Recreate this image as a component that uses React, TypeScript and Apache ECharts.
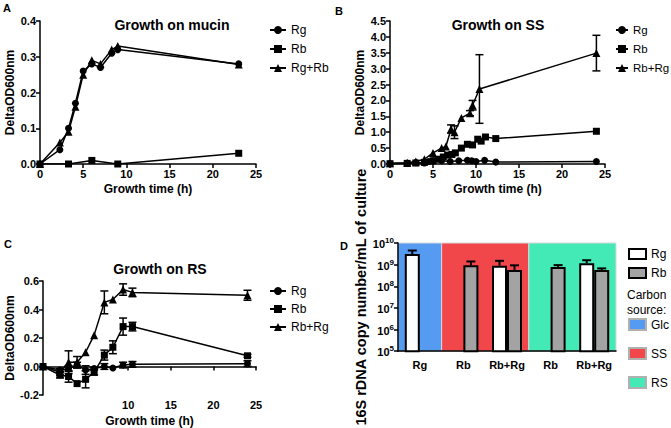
import React, { useEffect, useRef } from 'react';
import * as echarts from 'echarts';

const FF = '"Liberation Sans", Arial, sans-serif';

// ---- Panel A: growth on mucin ----
const aTime = [0, 2.3, 3.3, 4.1, 5, 6, 7, 8.3, 9, 23];
const aRg = [0, 0.04, 0.1, 0.17, 0.26, 0.28, 0.27, 0.31, 0.32, 0.28];
const aRgRb = [0, 0.06, 0.09, 0.16, 0.25, 0.29, 0.28, 0.32, 0.33, 0.278];
const aRbTime = [0, 3.3, 6, 9, 23];
const aRb = [0, 0, 0.01, 0, 0.03];

// ---- Panel B: growth on SS ----
const bRgTime = [0, 2, 3, 4, 4.5, 5, 6, 7, 8, 9, 9.5, 10, 11, 12.3, 24];
const bRg = [0.01, 0.02, 0.05, 0.03, 0.08, 0.1, 0.1, 0.08, 0.1, 0.12, 0.1, 0.08, 0.12, 0.06, 0.08];
const bRbTime = [0, 2, 3, 4, 5, 5.6, 6.2, 6.7, 7.2, 7.6, 8.3, 9, 9.6, 10.2, 10.6, 11.1, 12.3, 24];
const bRb = [0.01, 0.02, 0.03, 0.05, 0.1, 0.15, 0.22, 0.28, 0.3, 0.35, 0.5, 0.62, 0.6, 0.78, 0.72, 0.85, 0.8, 1.03];
const bMixTime = [0, 2, 3, 4, 5, 6, 6.5, 7.1, 7.5, 8.3, 9.3, 9.6, 10.4, 24];
const bMix = [0.02, 0.04, 0.08, 0.15, 0.35, 0.5, 0.55, 1.1, 1.0, 1.45, 1.6, 1.85, 2.36, 3.49];
const bMixErr = [0, 0, 0, 0, 0, 0, 0, 0.13, 0.2, 0, 0.08, 0.15, 1.08, 0.56];

// ---- Panel C: growth on RS ----
const cTime = [0, 2, 3, 4, 5, 6, 7.2, 8.2, 9.4, 10.5, 24];
const cRg = [0, -0.025, -0.015, 0.01, -0.025, -0.015, 0, -0.01, 0.01, 0.015, 0.02];
const cRgErr = [0, 0.01, 0.02, 0.02, 0.03, 0.01, 0.02, 0, 0.02, 0.02, 0.02];
const cRb = [0, -0.06, -0.07, -0.12, -0.09, -0.04, 0.08, 0.135, 0.28, 0.28, 0.075];
const cRbErr = [0, 0.02, 0.04, 0, 0.06, 0.02, 0.035, 0.045, 0.06, 0.03, 0.01];
const cMix = [0, -0.04, 0.03, 0.03, 0.1, 0.22, 0.45, 0.47, 0.54, 0.52, 0.5];
const cMixErr = [0, 0.02, 0.08, 0.04, 0, 0, 0.08, 0, 0.04, 0.03, 0.035];

// ---- Panel D: 16S rDNA copies ----
const dCategories = ['Rg', 'Rb', 'Rb+Rg', 'Rb', 'Rb+Rg'];
const dRg: (number | null)[] = [3.1e9, null, 9e8, null, 1.15e9];
const dRgHigh: (number | null)[] = [4.5e9, null, 1.5e9, null, 1.6e9];
const dRb: (number | null)[] = [null, 9.3e8, 5.6e8, 7.8e8, 5.6e8];
const dRbHigh: (number | null)[] = [null, 1.4e9, 9.3e8, 9.5e8, 6.7e8];
const dBandStart = [0, 1, 3];
const dBandEnd = [0, 2, 4];
const dBandNames = ['Glc', 'SS', 'RS'];
const dBandColors = ['#559bf2', '#f2474a', '#44eab6'];

const pairs = (xs: number[], ys: number[]) => xs.map((x, i) => [x, ys[i]]);
const errData = (xs: number[], ys: number[], es: number[]) =>
  xs.map((x, i) => [x, ys[i] - es[i], ys[i] + es[i]]).filter((_, i) => es[i] > 0);

const BLACK = '#000';
const axisLine = { show: true, onZero: true, lineStyle: { color: BLACK, width: 1.5 } };
const axisTick = { show: true, length: 4, lineStyle: { color: BLACK, width: 1.5 } };
const axisLabel = { color: BLACK, fontSize: 11, fontWeight: 'bold', fontFamily: FF, margin: 4 };
const nameStyle = { color: BLACK, fontSize: 12, fontWeight: 'bold', fontFamily: FF };

const errRender = (params: any, api: any) => {
  const x = api.value(0);
  const p1 = api.coord([x, api.value(1)]);
  const p2 = api.coord([x, api.value(2)]);
  const st = { stroke: BLACK, lineWidth: 1.5 };
  const c = 4;
  return {
    type: 'group',
    children: [
      { type: 'line', shape: { x1: p1[0], y1: p1[1], x2: p2[0], y2: p2[1] }, style: st },
      { type: 'line', shape: { x1: p1[0] - c, y1: p1[1], x2: p1[0] + c, y2: p1[1] }, style: st },
      { type: 'line', shape: { x1: p2[0] - c, y1: p2[1], x2: p2[0] + c, y2: p2[1] }, style: st },
    ],
  };
};

const lineSeries = (name: string, idx: number, data: number[][], symbol: string) => ({
  name,
  type: 'line',
  xAxisIndex: idx,
  yAxisIndex: idx,
  data,
  symbol,
  symbolSize: symbol === 'triangle' ? 8 : 7,
  itemStyle: { color: BLACK },
  lineStyle: { color: BLACK, width: 1.5 },
  z: 3,
});

const errSeries = (idx: number, data: number[][]) => ({
  type: 'custom',
  xAxisIndex: idx,
  yAxisIndex: idx,
  data,
  encode: { x: 0, y: [1, 2] },
  renderItem: errRender,
  silent: true,
  z: 4,
});

const timeAxis = (idx: number, showLabel?: (v: number) => string) => ({
  type: 'value',
  gridIndex: idx,
  min: 0,
  max: 25,
  interval: 5,
  name: 'Growth time (h)',
  nameLocation: 'middle',
  nameGap: 19,
  nameTextStyle: nameStyle,
  axisLine,
  axisTick,
  axisLabel: { ...axisLabel, formatter: showLabel || ((v: number) => String(v)) },
  splitLine: { show: false },
});

const odAxis = (idx: number, min: number, max: number, interval: number) => ({
  type: 'value',
  gridIndex: idx,
  min,
  max,
  interval,
  name: 'DeltaOD600nm',
  nameLocation: 'middle',
  nameGap: 24,
  nameTextStyle: nameStyle,
  axisLine,
  axisTick,
  axisLabel: { ...axisLabel, formatter: (v: number) => v.toFixed(1) },
  splitLine: { show: false },
});

const legendBase = {
  orient: 'vertical',
  padding: 0,
  itemWidth: 16,
  itemHeight: 10,
  itemGap: 7,
  formatter: (n: string) => n.split(':')[1],
  textStyle: { color: BLACK, fontSize: 12, fontFamily: FF },
  selectedMode: false,
};

const bandRender = (params: any, api: any) => {
  const s = api.value(0);
  const e = api.value(1);
  const ci = api.value(3);
  const half = (api.coord([1, 1e7])[0] - api.coord([0, 1e7])[0]) / 2;
  const top = api.coord([0, 1e10])[1];
  const bottom = api.coord([0, 1e5])[1];
  const x0 = api.coord([s, 1e7])[0] - half;
  const x1 = api.coord([e, 1e7])[0] + half;
  return {
    type: 'rect',
    shape: { x: x0, y: top, width: x1 - x0, height: bottom - top },
    style: { fill: dBandColors[ci], stroke: '#d8d8d8', lineWidth: 1 },
  };
};

const barErrRender = (params: any, api: any) => {
  const cat = api.value(0);
  const side = api.value(3);
  const p1 = api.coord([cat, api.value(1)]);
  const p2 = api.coord([cat, api.value(2)]);
  const x = p1[0] + side * 7.5;
  const st = { stroke: BLACK, lineWidth: 2 };
  return {
    type: 'group',
    children: [
      { type: 'line', shape: { x1: x, y1: p1[1], x2: x, y2: p2[1] }, style: st },
      { type: 'line', shape: { x1: x - 4.5, y1: p2[1], x2: x + 4.5, y2: p2[1] }, style: st },
    ],
  };
};

export default function App() {
  const ref = useRef<HTMLDivElement>(null);
  useEffect(() => {
    document.body.style.margin = '0';
    if (!ref.current) return;
    const chart = echarts.init(ref.current, undefined, { renderer: 'svg' });

    const dErr: any[] = [];
    dCategories.forEach((_, i) => {
      if (dRg[i] != null) dErr.push([i, dRg[i], dRgHigh[i], -1]);
      if (dRb[i] != null) dErr.push([i, dRb[i], dRbHigh[i], 1]);
    });

    const titleStyle = { fontSize: 14, fontWeight: 'bold', color: BLACK, fontFamily: FF };
    const letter = (t: string, left: number, top: number) => ({
      type: 'text', left, top, style: { text: t, fontSize: 11, fontWeight: 'bold', fill: BLACK, fontFamily: FF },
    });

    const option: any = {
      animation: false,
      backgroundColor: '#fff',
      textStyle: { fontFamily: FF },
      title: [
        { text: 'Growth on mucin', left: 167, top: 13, textAlign: 'center', textStyle: titleStyle },
        { text: 'Growth on SS', left: 493, top: 13, textAlign: 'center', textStyle: titleStyle },
        { text: 'Growth on RS', left: 155, top: 257, textAlign: 'center', textStyle: titleStyle },
      ],
      graphic: [
        letter('A', 3, 2),
        letter('B', 335, 5),
        letter('C', 4, 238),
        letter('D', 340, 240),
        { type: 'text', left: 627, top: 287, style: { text: 'Carbon\nsource:', fontSize: 12, lineHeight: 15, fill: BLACK, fontFamily: FF } },
      ],
      legend: [
        { ...legendBase, left: 269, top: 24, data: ['A:Rg', 'A:Rb', 'A:Rg+Rb'] },
        {
          ...legendBase, left: 615, top: 24, itemWidth: 12,
          textStyle: { color: BLACK, fontSize: 11.5, fontFamily: FF },
          data: ['B:Rg', 'B:Rb', 'B:Rb+Rg'],
        },
        { ...legendBase, left: 269, top: 285, itemGap: 6, data: ['C:Rg', 'C:Rb', 'C:Rb+Rg'] },
        {
          ...legendBase, left: 628, top: 248, itemWidth: 17, itemHeight: 10, itemGap: 7,
          data: [{ name: 'D:Rg', icon: 'rect' }, { name: 'D:Rb', icon: 'rect' }],
        },
        {
          ...legendBase, left: 628, top: 318, itemWidth: 17, itemHeight: 11, itemGap: 16,
          data: dBandNames.map((n) => ({ name: 'D:' + n, icon: 'rect' })),
        },
      ],
      grid: [
        { left: 40, top: 21, width: 216, height: 143 },
        { left: 390, top: 21, width: 215, height: 143 },
        { left: 43, top: 281, width: 213, height: 141 },
        { left: 398, top: 243, width: 218, height: 144 },
      ],
      xAxis: [
        timeAxis(0),
        timeAxis(1),
        { ...timeAxis(2, (v: number) => (v >= 10 ? String(v) : '')), nameGap: 20 },
        {
          type: 'category',
          gridIndex: 3,
          data: dCategories,
          axisLine: { show: true, lineStyle: { color: BLACK, width: 1.5 } },
          axisTick: { show: false },
          axisLabel: { ...axisLabel, fontSize: 11, margin: 8, interval: 0 },
        },
      ],
      yAxis: [
        odAxis(0, 0, 0.4, 0.1),
        odAxis(1, 0, 4.5, 0.5),
        odAxis(2, -0.2, 0.6, 0.2),
        {
          type: 'log',
          gridIndex: 3,
          logBase: 10,
          min: 1e5,
          max: 1e10,
          interval: 1,
          name: '16S rDNA copy number/mL of culture',
          nameLocation: 'middle',
          nameGap: 22,
          nameTextStyle: { ...nameStyle, fontSize: 14.5 },
          axisLine: { show: true, lineStyle: { color: BLACK, width: 1.5 } },
          axisTick,
          splitLine: { show: false },
          axisLabel: {
            ...axisLabel,
            formatter: (v: number) => `{b|10}{s|${Math.round(Math.log10(v))}}`,
            rich: {
              b: { fontSize: 11, fontWeight: 'bold', color: BLACK, fontFamily: FF, verticalAlign: 'bottom' },
              s: { fontSize: 8, fontWeight: 'bold', color: BLACK, fontFamily: FF, verticalAlign: 'bottom', padding: [0, 0, 5, 0] },
            },
          },
        },
      ],
      series: [
        // A
        lineSeries('A:Rg', 0, pairs(aTime, aRg), 'circle'),
        lineSeries('A:Rb', 0, pairs(aRbTime, aRb), 'rect'),
        lineSeries('A:Rg+Rb', 0, pairs(aTime, aRgRb), 'triangle'),
        // B
        lineSeries('B:Rg', 1, pairs(bRgTime, bRg), 'circle'),
        lineSeries('B:Rb', 1, pairs(bRbTime, bRb), 'rect'),
        lineSeries('B:Rb+Rg', 1, pairs(bMixTime, bMix), 'triangle'),
        errSeries(1, errData(bMixTime, bMix, bMixErr)),
        // C
        lineSeries('C:Rg', 2, pairs(cTime, cRg), 'circle'),
        lineSeries('C:Rb', 2, pairs(cTime, cRb), 'rect'),
        lineSeries('C:Rb+Rg', 2, pairs(cTime, cMix), 'triangle'),
        errSeries(2, errData(cTime, cRg, cRgErr)),
        errSeries(2, errData(cTime, cRb, cRbErr)),
        errSeries(2, errData(cTime, cMix, cMixErr)),
        // D
        {
          type: 'custom',
          xAxisIndex: 3,
          yAxisIndex: 3,
          data: dBandStart.map((s, i) => [s, dBandEnd[i], 1e7, i]),
          encode: { x: [0, 1], y: 2 },
          renderItem: bandRender,
          silent: true,
          z: 0,
        },
        ...dBandNames.map((n, i) => ({
          name: 'D:' + n,
          type: 'bar',
          xAxisIndex: 3,
          yAxisIndex: 3,
          data: [],
          itemStyle: { color: dBandColors[i], borderColor: '#b0b0b0', borderWidth: 1 },
        })),
        {
          name: 'D:Rg',
          type: 'bar',
          xAxisIndex: 3,
          yAxisIndex: 3,
          data: dRg.map((v) => (v == null ? '-' : v)),
          barWidth: 15,
          barGap: '0%',
          itemStyle: { color: '#fff', borderColor: BLACK, borderWidth: 2 },
          z: 2,
        },
        {
          name: 'D:Rb',
          type: 'bar',
          xAxisIndex: 3,
          yAxisIndex: 3,
          data: dRb.map((v) => (v == null ? '-' : v)),
          barWidth: 15,
          barGap: '0%',
          itemStyle: { color: '#a3a3a3', borderColor: BLACK, borderWidth: 2 },
          z: 2,
        },
        {
          type: 'custom',
          xAxisIndex: 3,
          yAxisIndex: 3,
          data: dErr,
          encode: { x: 0, y: [1, 2] },
          renderItem: barErrRender,
          silent: true,
          z: 3,
        },
      ],
    };
    chart.setOption(option);
    return () => chart.dispose();
  }, []);
  return <div ref={ref} style={{ width: 671, height: 428 }} />;
}
